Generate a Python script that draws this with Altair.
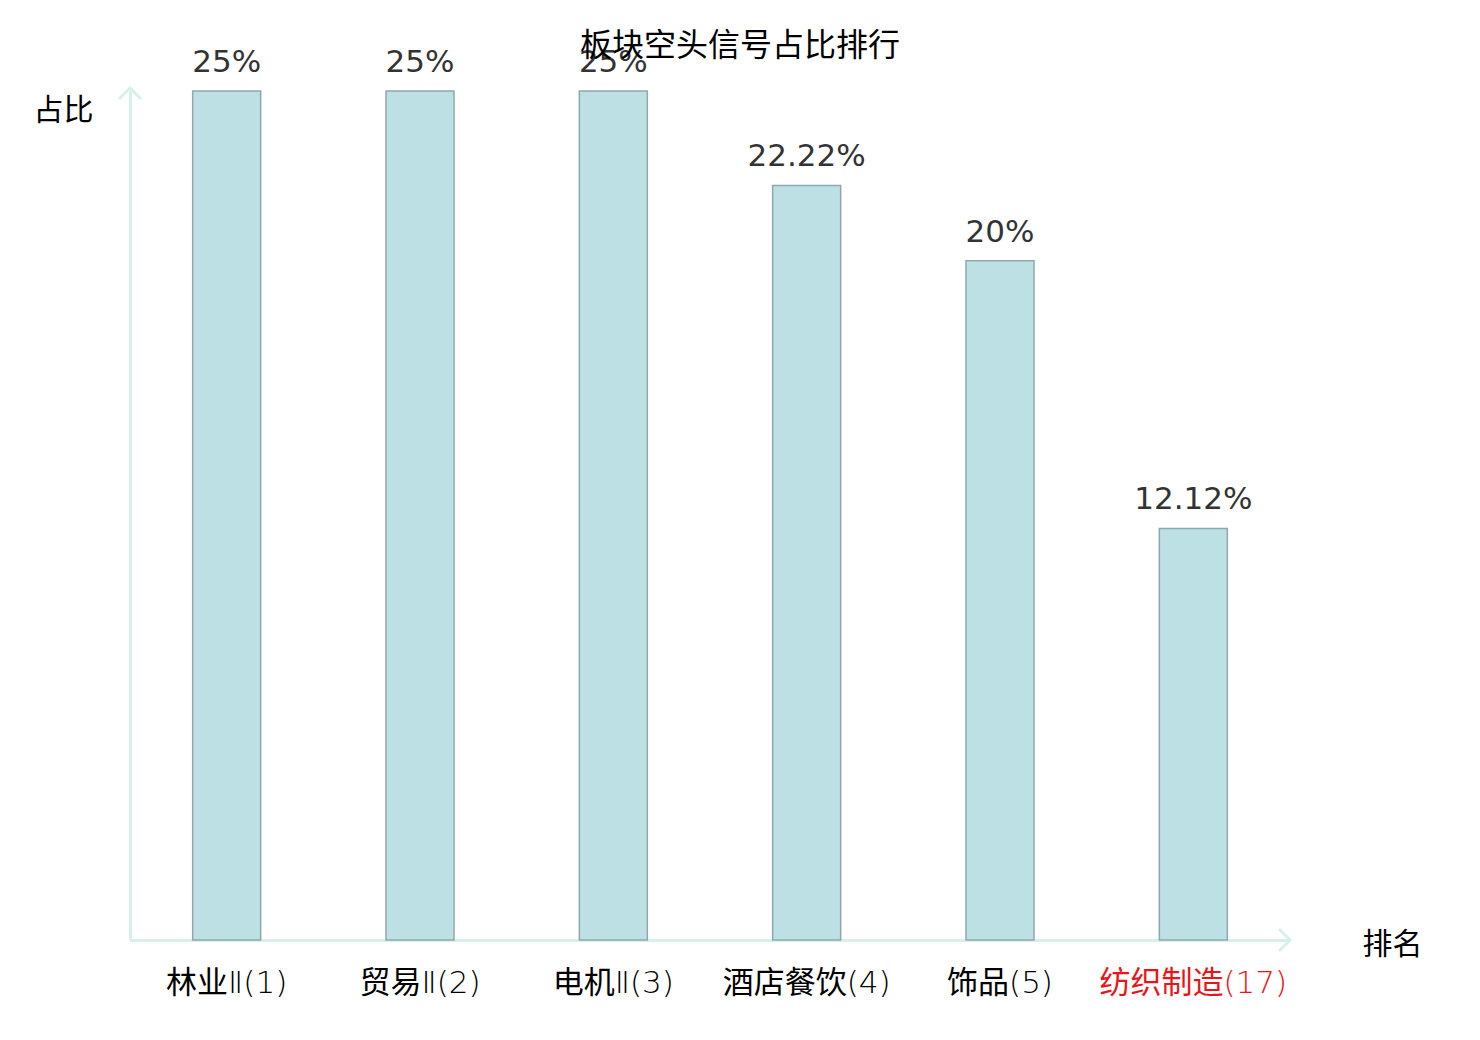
import altair as alt
import pandas as pd

categories = ["林业Ⅱ(1)", "贸易Ⅱ(2)", "电机Ⅱ(3)", "酒店餐饮(4)", "饰品(5)", "纺织制造(17)"]
values = [25, 25, 25, 22.22, 20, 12.12]
highlight = "纺织制造(17)"
title_text = "板块空头信号占比排行"

df = pd.DataFrame({"cat": categories, "v": values})

W, H = 1160, 849
AXIS_COLOR = "#d8f0ec"
CJK = "Noto Sans CJK SC"
LABEL_FONT = "DejaVu Sans Light, DejaVu Sans ExtraLight, Noto Sans CJK SC"

base = alt.Chart(df)

bars = base.mark_bar(size=68, fill="#bce0e3", stroke="#8fa9ab", strokeWidth=1.5).encode(
    x=alt.X("cat:N", sort=None,
            scale=alt.Scale(paddingInner=0, paddingOuter=0),
            axis=alt.Axis(title="排名", titleFont=CJK, titleFontSize=30, titleFontWeight="normal",
                          titleColor="#000", titleAngle=0, titleX=1262, titleY=4,
                          titleAlign="center", titleBaseline="middle",
                          labelFont=LABEL_FONT, labelFontSize=31, labelFontWeight="normal",
                          labelAngle=0, labelPadding=28, labelLimit=400,
                          labelBaseline="top",
                          labelColor={"condition": {"test": f"datum.value == '{highlight}'", "value": "#e8151b"}, "value": "#000000"},
                          ticks=False, domainColor=AXIS_COLOR, domainWidth=3)),
    y=alt.Y("v:Q", scale=alt.Scale(domain=[0, 25], nice=False),
            axis=alt.Axis(title="占比", titleFont=CJK, titleFontSize=30, titleFontWeight="normal",
                          titleColor="#000", titleAngle=0, titleX=-67, titleY=19,
                          titleAlign="center", titleBaseline="middle",
                          labels=False, ticks=False, grid=False,
                          domainColor=AXIS_COLOR, domainWidth=3)),
)

labels = base.mark_text(baseline="bottom", dy=-12, font="DejaVu Sans", fontSize=31, color="#333333").encode(
    x=alt.X("cat:N", sort=None),
    y="v:Q",
    text="label:N",
).transform_calculate(label="datum.v + '%'")

title = alt.Chart(pd.DataFrame({"t": [title_text]})).mark_text(
    font=CJK, fontSize=32, color="#000000", baseline="alphabetic", align="center"
).encode(x=alt.value(610), y=alt.value(-35), text="t:N")

up_arrow = alt.Chart(pd.DataFrame({"a": [0]})).mark_point(
    shape="M-1,1 L0,0 L1,1", size=484, filled=False, stroke=AXIS_COLOR, strokeWidth=3, opacity=1
).encode(x=alt.value(0), y=alt.value(-3))

right_arrow = alt.Chart(pd.DataFrame({"a": [0]})).mark_point(
    shape="M-1,-1 L0,0 L-1,1", size=484, filled=False, stroke=AXIS_COLOR, strokeWidth=3, opacity=1
).encode(x=alt.value(W), y=alt.value(H))

chart = alt.layer(bars, labels, title, up_arrow, right_arrow).properties(
    width=W, height=H,
    autosize=alt.AutoSizeParams(type="none"),
    padding={"left": 122, "top": 83, "right": 170, "bottom": 80},
).configure(background="white").configure_view(strokeWidth=0, stroke="transparent")

chart.save("out.html", embed_options={"renderer": "svg", "actions": False})
